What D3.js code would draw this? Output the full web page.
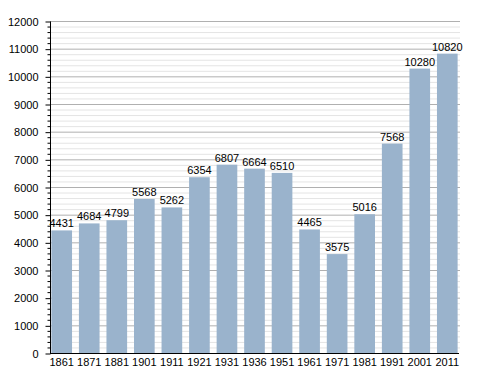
<!DOCTYPE html>
<html>
<head>
<meta charset="utf-8">
<script src="https://cdn.jsdelivr.net/npm/d3@7"></script>
<style>
  body { margin: 0; background: #fff; }
  text { font-family: "Liberation Sans", Arial, sans-serif; }
</style>
</head>
<body>
<div id="chart"></div>
<script>
// data
var years = ["1861", "1871", "1881", "1901", "1911", "1921", "1931", "1936", "1951", "1961", "1971", "1981", "1991", "2001", "2011"];
var population = [4431, 4684, 4799, 5568, 5262, 6354, 6807, 6664, 6510, 4465, 3575, 5016, 7568, 10280, 10820];
var yTicks = [0, 1000, 2000, 3000, 4000, 5000, 6000, 7000, 8000, 9000, 10000, 11000, 12000];

var svgWidth = 488;
var svgHeight = 373;

var svg = d3.select("#chart")
  .append("svg")
  .attr("width", svgWidth)
  .attr("height", svgHeight);

// x band scale & y linear scale
var x = d3.scaleBand()
  .domain(years)
  .range([50, 459])
  .paddingInner(0.25)
  .paddingOuter(0.05);

var y = d3.scaleLinear()
  .domain([0, 12000])
  .range([353, 21]);

// minor grid every 200
var minor = d3.range(0, 12001, 200).filter(d => d % 1000 !== 0);
svg.append("g")
  .selectAll("line")
  .data(minor)
  .enter().append("line")
  .attr("x1", 50)
  .attr("x2", 460)
  .attr("y1", d => y(d) + 0.5)
  .attr("y2", d => y(d) + 0.5)
  .attr("stroke", "#e4e4e4");

// major grid
svg.append("g")
  .selectAll("line")
  .data(yTicks.slice(1))
  .enter().append("line")
  .attr("x1", 50)
  .attr("x2", 460)
  .attr("y1", d => y(d) + 0.5)
  .attr("y2", d => y(d) + 0.5)
  .attr("stroke", "#b0b0b0");

// bars
svg.append("g")
  .selectAll("rect")
  .data(population)
  .enter().append("rect")
  .attr("x", (d, i) => x(years[i]))
  .attr("y", d => y(d))
  .attr("width", x.bandwidth())
  .attr("height", d => y(0) - y(d))
  .attr("fill", "#9ab3cc");

// value labels
svg.append("g")
  .selectAll("text")
  .data(population)
  .enter().append("text")
  .attr("x", (d, i) => x(years[i]) + x.bandwidth() / 2)
  .attr("y", d => y(d) - 3)
  .attr("text-anchor", "middle")
  .attr("font-size", "11px")
  .attr("fill", "#000")
  .text(d => d);

// y axis with minor ticks
var leftAxis = d3.axisLeft(y)
  .tickValues(yTicks)
  .tickSize(5)
  .tickPadding(7)
  .tickFormat(d3.format("d"));

var yAxisG = svg.append("g")
  .attr("transform", "translate(50.5, 0.5)")
  .call(leftAxis);

yAxisG.select(".domain").attr("stroke", "#000").attr("d", "M0," + y(12000) + "V" + y(0));
yAxisG.selectAll(".tick line").attr("stroke", "#000");
yAxisG.selectAll(".tick text")
  .attr("font-family", "Liberation Sans, Arial, sans-serif")
  .attr("font-size", "11px")
  .attr("fill", "#000");

yAxisG.append("g")
  .selectAll("line")
  .data(minor)
  .enter().append("line")
  .attr("x1", -3)
  .attr("x2", 0)
  .attr("y1", d => y(d))
  .attr("y2", d => y(d))
  .attr("stroke", "#000");

// x axis
var bottomAxis = d3.axisBottom(x)
  .tickSize(0)
  .tickPadding(5);

var xAxisG = svg.append("g")
  .attr("transform", "translate(0, " + (y(0) + 0.5) + ")")
  .call(bottomAxis);

xAxisG.select(".domain").attr("stroke", "#000").attr("d", "M50,0H459");
xAxisG.selectAll(".tick text")
  .attr("font-family", "Liberation Sans, Arial, sans-serif")
  .attr("font-size", "11px")
  .attr("fill", "#000");
</script>
</body>
</html>
